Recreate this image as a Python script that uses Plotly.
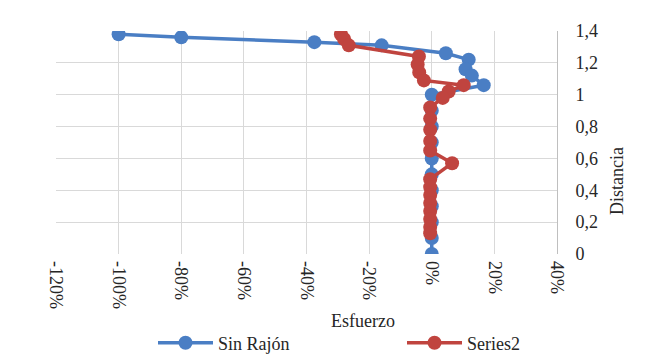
import plotly.graph_objects as go

# Series "Sin Rajón" (x = esfuerzo in %, y = distancia)
sin_rajon_x = [-100, -80, -37.5, -16, 4.5, 11.8, 10.8, 12.8, 16.6, 0, 0, 0, 0, 0, 0, 0, 0, 0, 0, 0]
sin_rajon_y = [1.38, 1.36, 1.33, 1.31, 1.26, 1.22, 1.16, 1.12, 1.06, 1.0, 0.9, 0.8, 0.7, 0.6, 0.5, 0.4, 0.3, 0.2, 0.1, 0.0]

# Series "Series2"
series2_x = [-29, -28, -26.5, -4.1, -4.5, -4.0, -2.5, 10.2, 5.4, 3.5, -0.5, -0.5, -0.5, -0.5, -0.5, 6.5, -0.5, -0.5, -0.5, -0.5, -0.5, -0.5, -0.5, -0.5]
series2_y = [1.38, 1.35, 1.31, 1.24, 1.19, 1.14, 1.09, 1.06, 1.02, 0.98, 0.92, 0.85, 0.78, 0.71, 0.65, 0.57, 0.47, 0.42, 0.37, 0.32, 0.27, 0.22, 0.17, 0.13]

x_tickvals = [-120, -100, -80, -60, -40, -20, 0, 20, 40]
x_ticktext = ["-120%", "-100%", "-80%", "-60%", "-40%", "-20%", "0%", "20%", "40%"]
y_tickvals = [0, 0.2, 0.4, 0.6, 0.8, 1.0, 1.2, 1.4]
y_ticktext = ["0", "0,2", "0,4", "0,6", "0,8", "1", "1,2", "1,4"]

BLUE = "#4A7EC4"
RED = "#C0443F"
FONT = '"Liberation Serif", "Times New Roman", "DejaVu Serif", serif'
TXT = "#262626"

W, H = 650, 358
L, R, T, B = 56, 557, 31, 254

fig = go.Figure()
fig.add_trace(go.Scatter(
    x=sin_rajon_x, y=sin_rajon_y, name="Sin Rajón", mode="lines+markers",
    line=dict(color=BLUE, width=3.5), marker=dict(color=BLUE, size=14)))
fig.add_trace(go.Scatter(
    x=series2_x, y=series2_y, name="Series2", mode="lines+markers",
    line=dict(color=RED, width=3.5), marker=dict(color=RED, size=14)))

fig.update_layout(
    width=W, height=H,
    margin=dict(l=L, r=W - R, t=T, b=H - B, autoexpand=False),
    paper_bgcolor="white", plot_bgcolor="white",
    font=dict(family=FONT, size=18, color=TXT),
    showlegend=True,
    legend=dict(orientation="h", xref="container", yref="container",
                x=153 / W, y=1 - 343 / H, xanchor="left", yanchor="middle",
                font=dict(family=FONT, size=18, color=TXT),
                itemwidth=55, entrywidth=179, traceorder="normal"),
    annotations=[
        dict(text="Esfuerzo", xref="paper", yref="paper",
             x=(363 - L) / (R - L), y=-(321 - B) / (B - T), showarrow=False,
             xanchor="center", yanchor="middle",
             font=dict(family=FONT, size=18, color=TXT)),
        dict(text="Distancia", xref="paper", yref="paper", textangle=-90,
             x=(617 - L) / (R - L), y=(B - 181) / (B - T), showarrow=False,
             xanchor="center", yanchor="middle",
             font=dict(family=FONT, size=18, color=TXT)),
    ],
)
fig.update_xaxes(range=[-120, 40], tickvals=x_tickvals, ticktext=x_ticktext,
                 tickangle=90, showgrid=True, gridcolor="#D9D9D9", gridwidth=1,
                 zeroline=False, showline=False, ticks="", ticklabelstandoff=6,
                 tickfont=dict(family=FONT, size=18, color=TXT))
fig.update_yaxes(range=[0, 1.4], tickvals=y_tickvals, ticktext=y_ticktext,
                 side="right", showgrid=True, gridcolor="#D9D9D9", gridwidth=1,
                 zeroline=False, showline=True, linecolor="#BFBFBF", ticks="",
                 ticklabelstandoff=14,
                 tickfont=dict(family=FONT, size=18, color=TXT))
fig.write_html("out.html", config={"displayModeBar": False},
               post_script="document.body.style.margin='0';")
